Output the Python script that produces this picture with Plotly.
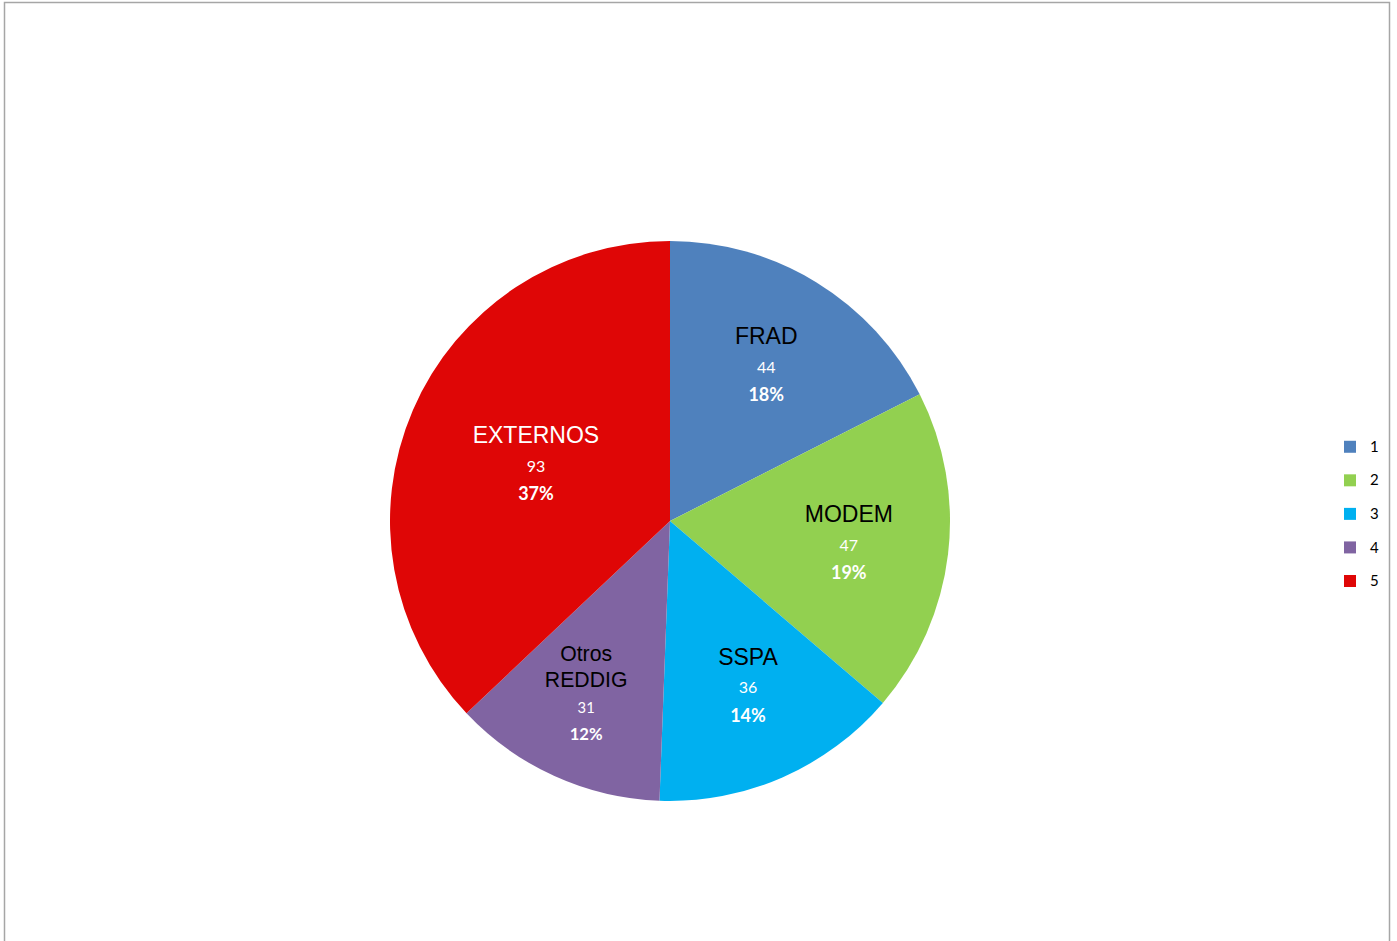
import plotly.graph_objects as go

legend_labels = ["1", "2", "3", "4", "5"]
names = ["FRAD", "MODEM", "SSPA", "Otros<br>REDDIG", "EXTERNOS"]
values = [44, 47, 36, 31, 93]
colors = ["#4F81BD", "#92D050", "#00B0F0", "#8064A2", "#DF0606"]
name_colors = ["black", "black", "black", "black", "white"]
pad_lines = [0, 0, 1, 1, 0]

templates = [
    "<span style='font-family:Liberation Sans, Arial;font-size:23px;color:%s'>%%{text}</span>"
    "<br><span style='font-size:16px'>%%{value}</span>"
    "<br><b style='font-size:18px'>%%{percent:.0%%}</b>" % c + "<br>&nbsp;" * p
    for c, p in zip(name_colors, pad_lines)
]

W, H = 1397, 941
cx, cy, r = 670, 521, 280

fig = go.Figure(go.Pie(
    labels=["<span style='font-size:15px;baseline-shift:4px'>%s</span>" % l for l in legend_labels],
    values=values,
    text=names,
    texttemplate=templates,
    textinfo="text",
    textposition="inside",
    insidetextorientation="horizontal",
    textfont=dict(family="Lato", size=22, color="white"),
    marker=dict(colors=colors, line=dict(width=0)),
    sort=False,
    direction="clockwise",
    rotation=0,
    hoverinfo="value+percent",
    domain=dict(x=[(cx - r) / W, (cx + r) / W], y=[(H - cy - r) / H, (H - cy + r) / H]),
))

fig.update_layout(
    width=W, height=H,
    margin=dict(l=0, r=0, t=0, b=0),
    paper_bgcolor="white",
    plot_bgcolor="white",
    legend=dict(x=1330 / W, y=(H - 514) / H, xanchor="left", yanchor="middle",
                font=dict(family="Lato", size=23.5, color="black"),
                bgcolor="rgba(0,0,0,0)", itemwidth=30, tracegroupgap=0),
    shapes=[dict(type="rect", xref="paper", yref="paper",
                 x0=4.5 / W, x1=1389.5 / W, y0=-0.01, y1=(H - 2.5) / H,
                 line=dict(color="#A6A6A6", width=1.5), fillcolor="rgba(0,0,0,0)")],
)

fig.write_html("out.html", config={"displayModeBar": False},
               post_script="document.body.style.margin='0';document.body.style.padding='0';")
